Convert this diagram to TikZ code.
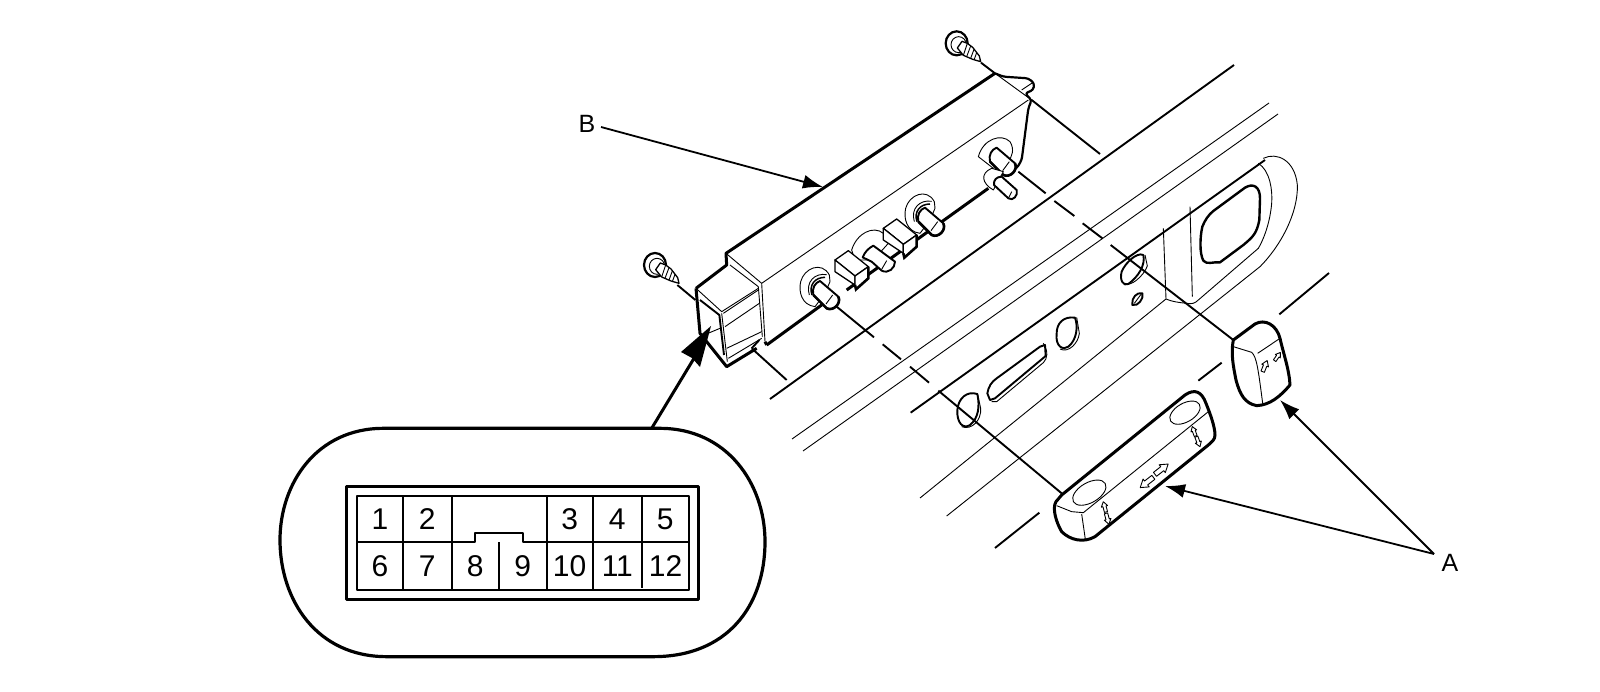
\documentclass[tikz,border=0pt]{standalone}
\usepackage{fontspec}
\setmainfont{Liberation Sans}
\usetikzlibrary{arrows.meta}
\tikzset{
 hair/.style={line width=0.9pt,line join=round},
 med/.style={line width=1.9pt,line join=round},
 semi/.style={line width=1.3pt,line join=round},
 hvy/.style={line width=3pt,line join=round},
 pinlabel/.style={font=\fontsize{30}{30}\selectfont,inner sep=0pt},
 callout/.style={font=\fontsize{25}{25}\selectfont,inner sep=0pt},
 leader/.style={line width=1.8pt,-{Latex[length=20pt,width=14pt]}},
 zoomA/.style={shift={(620,20)},scale=0.33333},
 zoomB/.style={shift={(880,140)},scale=0.33333},
 zoomC/.style={shift={(260,400)},scale=0.33333},
}
\newcommand{\screwpart}[2]{\begin{scope}[shift={(#1,#2)}]
 \draw[line width=2.2pt,fill=white] (0,0) circle[x radius=33,y radius=36];
 \draw[hair] (6,4) circle[x radius=23,y radius=24];
 \draw[semi,fill=white] (2,14) -- (16,-6) -- (32,0) -- (48,12) -- (68,38) -- (72,55) -- (48,48) -- (20,36) -- cycle;
 \draw[hair] (32,0) -- (20,36) (42,8) -- (30,40) (52,18) -- (42,45) (60,28) -- (52,50);
 \end{scope}}
\newcommand{\studpart}[4]{\begin{scope}[shift={(#1,#2)}]
 \ifnum#3=1
 \draw[hair,fill=white] (-5,60) .. controls (-45,55) and (-55,15) .. (-48,-15) .. controls (-38,-55) and (15,-78) .. (38,-35) -- (40,-15) -- (25,20) -- cycle;
 \draw[line width=1.5pt] (-14,25) .. controls (-24,-5) and (-5,-28) .. (25,-28);
 \draw[hair] (-22,25) .. controls (-34,-15) and (-5,-42) .. (30,-36);
 \fi
 \ifnum#3=2
 \draw[hair,fill=white] (-45,10) .. controls (-30,-45) and (25,-60) .. (50,-35) .. controls (65,-10) and (55,10) .. (45,25) -- (0,45) -- cycle;
 \fi
 \draw[#4,fill=white] (-10,25) .. controls (-15,5) and (-5,-12) .. (10,-17) -- (65,30) .. controls (75,50) and (50,75) .. (30,65) -- cycle;
 \draw[line width=2.6pt] (-10,25) -- (30,65) .. controls (50,75) and (75,50) .. (65,30);
 \draw[hair] (48,25) -- (28,52);
 \end{scope}}
\newcommand{\blockpart}[2]{\begin{scope}[shift={(#1,#2)}]
 \draw[semi,fill=white] (0,28) -- (40,0) -- (100,48) -- (60,76) -- cycle;
 \draw[semi,fill=white] (0,28) -- (0,63) -- (60,103) -- (60,76) -- cycle;
 \draw[semi,fill=white] (60,76) -- (100,48) -- (100,83) -- (63,116) -- (60,103) -- cycle;
 \draw[line width=2.6pt] (100,48) -- (100,83) -- (63,116) -- (60,103);
 \end{scope}}
\newcommand{\glypharrow}[4]{\begin{scope}[shift={(#1,#2)},rotate=#3,scale=#4]
 \draw[hair,fill=white] (0,-6) -- (22,-6) -- (22,-12) -- (40,0) -- (22,12) -- (22,6) -- (0,6) -- cycle;
 \end{scope}}
\begin{document}
\begin{tikzpicture}[x=1pt,y=-1pt]
\useasboundingbox (0,0) rectangle (1600,692);
\fill[white] (0,0) rectangle (1600,692);

% long background lines
\draw[med] (770,399) -- (1234,65);
\draw[hair] (792,439) -- (1269,103);
\draw[hair] (803,451) -- (1278,114);

% ---- panel
\begin{scope}[zoomB]
 \draw[med] (92,818) -- (1155,60);
 \draw[hair] (1150,55) .. controls (1190,35) and (1245,60) .. (1252,135) .. controls (1255,220) and (1200,320) .. (1140,380) -- (200,1128);
 \draw[hair] (1135,70) .. controls (1170,92) and (1178,150) .. (1175,190) .. controls (1170,250) and (1150,300) .. (1135,325) -- (955,480) .. controls (945,490) and (935,493) .. (920,490) .. controls (900,488) and (875,485) .. (858,477);
 \draw[hair] (930,200) -- (937,470);
 \draw[hair] (850,265) -- (858,477);
 \draw[hair] (858,477) -- (120,1074);
 \draw[line width=2.4pt,line join=round] (1095,143) .. controls (1120,128) and (1140,140) .. (1140,175) -- (1138,240) .. controls (1130,280) and (1120,290) .. (1090,315) -- (1020,367) .. controls (1000,365) and (980,375) .. (970,362) .. controls (958,340) and (960,290) .. (967,260) .. controls (975,240) and (985,225) .. (1000,213) -- cycle;
 % slot
 \draw[hair] (335,785) -- (350,785) -- (490,668) .. controls (503,655) and (505,635) .. (490,610);
 \draw[med] (322,760) .. controls (325,740) and (335,725) .. (350,715) -- (480,620) -- (495,615) -- (497,648) -- (345,775) -- (330,780) -- cycle;
 % ovals
 \draw[hair] (540,627) .. controls (565,640) and (595,610) .. (598,580) -- (590,532);
 \draw[med] (530,580) .. controls (530,550) and (550,528) .. (585,533) .. controls (595,560) and (590,600) .. (565,620) .. controls (550,632) and (525,620) .. (530,580) -- cycle;
 \draw[hair] (245,860) .. controls (275,872) and (305,840) .. (302,805) -- (292,760);
 \draw[med] (232,810) .. controls (235,775) and (260,752) .. (292,762) .. controls (300,800) and (295,835) .. (270,855) .. controls (250,868) and (230,850) .. (232,810) -- cycle;
 \draw[hair] (735,430) .. controls (750,442) and (790,410) .. (802,378) -- (795,345);
 \draw[med] (725,395) .. controls (735,370) and (770,335) .. (790,345) .. controls (797,375) and (775,410) .. (745,432) .. controls (730,440) and (718,420) .. (725,395) -- cycle;
 \draw[med] (757,490) .. controls (755,475) and (770,455) .. (787,460) .. controls (792,475) and (775,500) .. (757,495) -- cycle;
 \draw[hair] (763,490) -- (783,463);
\end{scope}

% short segments of the interrupted line
\begin{scope}[zoomB]
 \draw[med] (1198,523) -- (1347,399);
 \draw[med] (955,722) -- (1025,668);
 \draw[med] (345,1224) -- (478,1118);
\end{scope}

% ---- switch body
\begin{scope}[zoomA]
 \draw[hvy] (440,975) -- (605,855);
 \draw[hvy] (680,810) -- (1105,505);
 \coordinate (boxTR) at (1125,160);
 \coordinate (boxTL) at (318,700);
 \coordinate (boxNotch) at (320,735);
 \coordinate (connTL) at (228,805);
 \draw[hvy] (boxTR) -- (boxTL) -- (boxNotch) -- (connTL);
 \draw[hair] (boxTL) -- (425,790) -- (1225,240);
 \draw[hair] (330,735) -- (415,800);
 \draw[hair] (425,790) -- (435,965);
 \draw[hair] (415,800) -- (427,950);
 \draw[hvy] (435,965) -- (440,975);
 \draw[hair] (1125,160) -- (1235,240);
 % connector
 \draw[hair] (connTL) -- (305,875) -- (415,805);
 \draw[hvy] (connTL) -- (240,940) -- (320,1040) -- (410,985);
 \draw[med] (240,840) -- (298,885) -- (312,1005);
 \draw[hair] (305,880) -- (322,1025);
 \draw[hair] (310,880) -- (415,810);
 \draw[hair] (315,920) -- (418,850);
 \draw[hair] (320,985) -- (425,935);
 \draw[hair] (325,1015) -- (425,955);
 \draw[hair] (240,950) -- (300,925);
 \draw[med] (395,985) -- (418,960);
 % wire
 \draw[line width=2.2pt,line join=round,rounded corners=3pt] (1125,160) -- (1150,170) -- (1225,175) -- (1243,190) -- (1240,210) -- (1215,220) -- (1235,240) -- (1225,265) -- (1205,420) -- (1190,445) -- (1155,460);
 \draw[hair] (1205,210) -- (1238,188);
 % studs
 \studpart{590}{800}{1}{med}
 \studpart{905}{580}{1}{med}
 \draw[hair,fill=white] (695,690) .. controls (710,640) and (760,615) .. (790,640) -- (805,670) -- (760,720) -- (705,720) -- cycle;
 \blockpart{645}{692}
 \blockpart{790}{597}
 \draw[med,fill=white] (728,712) .. controls (735,695) and (745,685) .. (760,677) -- (825,725) .. controls (825,745) and (805,762) .. (785,752) -- (755,725) -- cycle;
 \draw[hair] (800,722) -- (785,748);
 \studpart{1120}{400}{2}{med}
 \draw[hair,fill=white] (1120,510) .. controls (1085,490) and (1080,460) .. (1115,445) -- (1150,455) -- cycle;
 \draw[med,fill=white] (1122,495) .. controls (1120,480) and (1130,470) .. (1145,470) -- (1190,510) .. controls (1195,525) and (1180,545) .. (1165,535) -- cycle;
 \draw[hair] (1175,515) -- (1165,535);
 % screws
 \coordinate (screwA) at (1083,128);
 \coordinate (screwB) at (172,795);
 \coordinate (connL) at (226,840);
 \draw[med] (screwA) -- (boxTR);
 \draw[med] (screwB) -- (connL);
 \screwpart{1010}{70}
 \screwpart{105}{735}
 % stud leader lines
 \draw[med] (1235,240) -- (1440,402);
 \draw[med] (395,985) -- (500,1080);
 \draw[med] (650,860) -- (762,952);
 \draw[med] (788,973) -- (843,1018);
 \draw[med] (870,1040) -- (927,1088);
\end{scope}

% ---- buttons
\begin{scope}[zoomB]
 \draw[med] (415,95) -- (497,160);
 \draw[med] (523,183) -- (583,228);
 \draw[med] (608,250) -- (667,295);
 \draw[med] (692,315) -- (1060,600);
 \draw[med] (175,752) -- (545,1060);
 \draw[hvy,fill=white] (1060,600) -- (1125,552) .. controls (1155,535) and (1190,555) .. (1200,595) .. controls (1210,640) and (1228,690) .. (1230,735) .. controls (1200,770) and (1170,795) .. (1130,797) .. controls (1095,790) and (1080,765) .. (1068,720) .. controls (1060,680) and (1052,640) .. cycle;
 \draw[hair] (1060,620) -- (1115,637) .. controls (1130,650) and (1135,690) .. (1148,790);
 \draw[hair] (1133,640) -- (1197,597);
 \glypharrow{1148}{695}{68}{0.9}
 \glypharrow{1184}{662}{55}{0.75}
 \draw[hvy,fill=white] (545,1065) -- (915,765) .. controls (945,745) and (965,755) .. (978,790) .. controls (990,820) and (1005,860) .. (1005,885) .. controls (1005,900) and (995,905) .. (985,915) -- (645,1190) .. controls (610,1210) and (570,1200) .. (545,1175) .. controls (530,1150) and (515,1105) .. (528,1085) -- cycle;
 \draw[hair] (530,1097) -- (575,1115) -- (610,1118) -- (985,815);
 \draw[hair] (605,1122) -- (616,1198);
 \draw[hair] (628,1058) circle[x radius=55,y radius=30,rotate=30];
 \draw[hair] (915,818) circle[x radius=50,y radius=28,rotate=30];
 \glypharrow{820}{1012}{218}{1.25}
 \glypharrow{825}{1003}{38}{1.25}
 \glypharrow{678}{1116}{105}{0.8}
 \glypharrow{678}{1120}{285}{0.85}
 \glypharrow{947}{888}{110}{0.75}
 \glypharrow{949}{890}{290}{0.8}
\end{scope}

% ---- connector view
\begin{scope}[zoomC]
 \coordinate (insetTop) at (1175,85);
 \draw[line width=3.2pt,line join=round] (370,85) -- (1200,85) .. controls (1400,85) and (1515,250) .. (1515,425) .. controls (1515,620) and (1400,770) .. (1180,770) -- (380,770) .. controls (170,770) and (60,600) .. (60,420) .. controls (60,250) and (170,85) .. cycle;
 \draw[hvy] (260,258) rectangle (1315,598);
 \draw[med] (290,287) rectangle (1288,570);
 \draw[med] (290,427) -- (645,427) -- (645,400) -- (790,400) -- (790,427) -- (1288,427);
 \draw[med] (430,287) -- (430,570);
 \draw[med] (577,287) -- (577,570);
 \draw[med] (717,427) -- (717,570);
 \draw[med] (860,287) -- (860,570);
 \draw[med] (998,287) -- (998,570);
 \draw[med] (1145,287) -- (1145,563);
 \node[pinlabel] (p1) at (360,358) {1};
 \node[pinlabel] (p2) at (502,358) {2};
 \node[pinlabel] (p3) at (929,358) {3};
 \node[pinlabel] (p4) at (1072,358) {4};
 \node[pinlabel] (p5) at (1216,358) {5};
 \node[pinlabel] (p6) at (360,498) {6};
 \node[pinlabel] (p7) at (502,498) {7};
 \node[pinlabel] (p8) at (646,498) {8};
 \node[pinlabel] (p9) at (788,498) {9};
 \node[pinlabel] (p10) at (929,498) {10};
 \node[pinlabel] (p11) at (1072,498) {11};
 \node[pinlabel] (p12) at (1217,498) {12};
\end{scope}

% ---- callouts
\coordinate (connTip) at (711,326);
\fill (connTip) -- (681,352) -- (692,358) -- (700,367) -- cycle;
\draw[line width=3pt] (insetTop) -- (696,355);

\node[callout] (labelB) at (587,124) {B};
\node[callout] (labelA) at (1450,563) {A};
\coordinate (startB) at (601,127);
\coordinate (tipB) at (823,187);
\coordinate (apexA) at (1434,554);
\coordinate (tipA1) at (1165,486);
\coordinate (tipA2) at (1280,400);
\draw[leader] (startB) -- (tipB);
\draw[leader] (apexA) -- (tipA1);
\draw[leader] (apexA) -- (tipA2);
\end{tikzpicture}
\end{document}
